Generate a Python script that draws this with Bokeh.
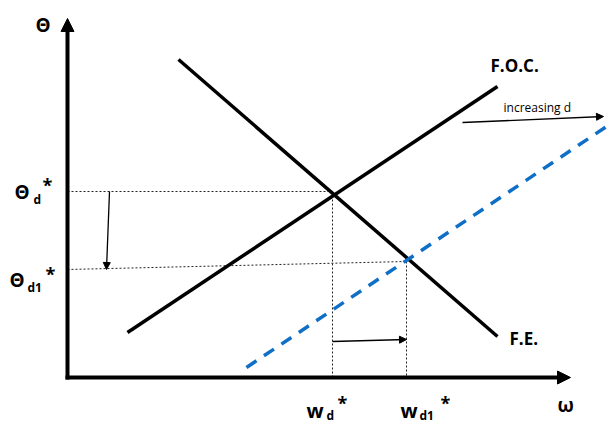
from bokeh.plotting import figure
from bokeh.models import Range1d, Arrow, NormalHead
from bokeh.core.properties import value
from bokeh.embed import file_html
from bokeh.resources import INLINE

# Diagram data (in drawing units)
axis_origin = (67, 377)
axis_y_top = 18
axis_x_end = 570

foc_x = [127, 497]
foc_y = [332, 86]
fe_x = [178, 497]
fe_y = [59, 336]
foc_shift_x = [246, 612]
foc_shift_y = [367, 122]

w_d = 332
w_d1 = 406
theta_d = 191
theta_d1_left = 269
theta_d1_right = 261

FONT = value("Open Sans")

p = figure(width=608, height=424, x_range=Range1d(0, 608), y_range=Range1d(424, 0),
           output_backend="svg", toolbar_location=None, min_border=0)
p.axis.visible = False
p.grid.visible = False
p.outline_line_color = None
p.background_fill_color = "white"

# axes with arrowheads
ox, oy = axis_origin
p.add_layout(Arrow(end=NormalHead(size=13, fill_color="black", line_color="black"),
                   x_start=ox, y_start=oy + 2, x_end=ox, y_end=axis_y_top,
                   line_width=4, line_color="black"))
p.add_layout(Arrow(end=NormalHead(size=13, fill_color="black", line_color="black"),
                   x_start=ox - 2, y_start=oy, x_end=axis_x_end, y_end=oy,
                   line_width=4, line_color="black"))

# dotted guide lines
dot = dict(line_dash="2 2", line_width=1, line_color="#222222")
p.line([ox, w_d], [theta_d, theta_d], **dot)
p.line([ox, w_d1], [theta_d1_left, theta_d1_right], **dot)
p.line([w_d, w_d], [theta_d, oy], **dot)
p.line([w_d1, w_d1], [theta_d1_right, oy], **dot)

# curves
p.line(foc_x, foc_y, line_width=3.5, line_color="black")
p.line(fe_x, fe_y, line_width=3.5, line_color="black")
p.line(foc_shift_x, foc_shift_y, line_width=3.5, line_color="#0F6FC6", line_dash="12 9")

# small arrows
def small_arrow(xs, ys, xe, ye):
    p.add_layout(Arrow(end=NormalHead(size=7, fill_color="black", line_color="black"),
                       x_start=xs, y_start=ys, x_end=xe, y_end=ye,
                       line_width=1.3, line_color="black"))

small_arrow(109, theta_d, 106, theta_d1_left)
small_arrow(w_d, 341, w_d1, 339)
small_arrow(462, 122, 603, 116)

# labels
def label(x, y, t, size, bold=True, baseline="middle"):
    p.text(x=[x], y=[y], text=[t], text_font=FONT, text_font_size=f"{size}px",
           text_font_style="bold" if bold else "normal", text_color="black",
           text_baseline=baseline, text_align="left")

label(35, 24, "Θ", 19)
label(14, 191, "Θ", 19)
label(33, 199, "d", 12)
label(42, 184, "*", 18)
label(9, 279, "Θ", 19)
label(27, 287, "d1", 12)
label(45, 273, "*", 18)
label(306, 410, "w", 20)
label(326, 415, "d", 12)
label(337, 402, "*", 18)
label(400, 410, "w", 20)
label(419, 415, "d1", 12)
label(440, 402, "*", 18)
label(557, 404, "ω", 19)
label(490, 65, "F.O.C.", 17)
label(509, 338, "F.E.", 17)
label(503, 107, "increasing d", 12, bold=False)

open("out.html", "w").write(file_html(p, INLINE))
